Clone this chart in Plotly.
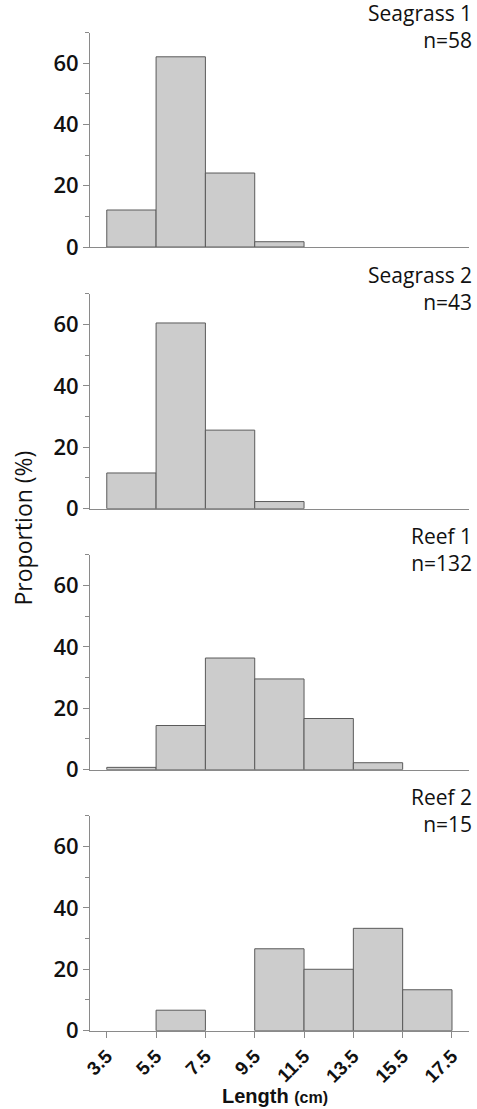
import plotly.graph_objects as go
from plotly.subplots import make_subplots

bin_centers = [4.5, 6.5, 8.5, 10.5, 12.5, 14.5, 16.5]
tick_vals = [3.5, 5.5, 7.5, 9.5, 11.5, 13.5, 15.5, 17.5]
tick_text = ["3.5", "5.5", "7.5", "9.5", "11.5", "13.5", "15.5", "17.5"]

site_names = ["Seagrass 1", "Seagrass 2", "Reef 1", "Reef 2"]
site_n = [58, 43, 132, 15]

seagrass1 = [12.07, 62.07, 24.14, 1.72, None, None, None]
seagrass2 = [11.63, 60.47, 25.58, 2.33, None, None, None]
reef1 = [0.76, 14.39, 36.36, 29.55, 16.67, 2.27, None]
reef2 = [None, 6.67, None, 26.67, 20.0, 33.33, 13.33]
series = [seagrass1, seagrass2, reef1, reef2]

W, H = 477, 1109
mt, ml, mr = 30, 90, 8
mb = H - 1031
PH = H - mt - mb
PW = W - ml - mr
tops = [32.5, 293.7, 554.7, 815.7]
bots = [247.0, 508.7, 769.7, 1030.7]


def py(page_y):
    return (H - mb - page_y) / PH


def px(page_x):
    return (page_x - ml) / PW


fig = make_subplots(rows=4, cols=1)

axis_col = "#8a8a8a"
tick_font = dict(family="Open Sans", size=22, color="#111111", weight=600)

for i, vals in enumerate(series):
    r = i + 1
    fig.add_trace(go.Bar(x=bin_centers, y=vals, width=2,
                         marker=dict(color="#cccccc", line=dict(color="#5a5a5a", width=1)),
                         showlegend=False, hoverinfo="skip"), row=r, col=1)
    d0 = py(bots[i])
    d1 = py(tops[i])
    yname = "yaxis" if r == 1 else f"yaxis{r}"
    xname = "xaxis" if r == 1 else f"xaxis{r}"
    fig.layout[yname].update(domain=[max(d0, 0), min(d1, 1)], range=[0, 70], tickvals=[0, 20, 40, 60],
                             showline=True, linecolor=axis_col, linewidth=1,
                             ticks="outside", ticklen=6, tickcolor=axis_col,
                             minor=dict(dtick=10, tick0=0, ticks="outside", ticklen=4, tickcolor=axis_col),
                             showgrid=False, zeroline=False, tickfont=tick_font)
    last = (r == 4)
    fig.layout[xname].update(range=[2.82, 18.19], showline=True, linecolor=axis_col, linewidth=1,
                             showgrid=False, zeroline=False,
                             tickvals=tick_vals, ticktext=tick_text,
                             ticks="outside" if last else "", ticklen=6, tickcolor=axis_col,
                             showticklabels=last, tickangle=-45,
                             tickfont=dict(family="Liberation Sans", size=19, color="#111111", weight="bold"))
    fig.add_annotation(xref="paper", yref="paper", x=px(474), y=d1, yshift=35,
                       xanchor="right", yanchor="top", align="right", showarrow=False,
                       text=f"{site_names[i]}<br>n={site_n[i]}",
                       font=dict(family="Open Sans", size=21, color="#111111"))

fig.add_annotation(xref="paper", yref="paper", x=px(22.5), y=py(528),
                   xanchor="center", yanchor="middle",
                   showarrow=False, textangle=-90, text="Proportion (%)",
                   font=dict(family="Open Sans", size=23, color="#111111", weight=500))
fig.add_annotation(xref="paper", yref="paper", x=px(275), y=py(1096),
                   xanchor="center", yanchor="middle",
                   showarrow=False,
                   text="Length <span style='font-size:16px'>(cm)</span>",
                   font=dict(family="Liberation Sans", size=20, color="#111111", weight="bold"))

fig.update_layout(width=W, height=H, margin=dict(t=mt, b=mb, l=ml, r=mr),
                  plot_bgcolor="white", paper_bgcolor="white", bargap=0)

fig.write_html("out.html", config={"displayModeBar": False, "staticPlot": True},
               post_script="document.body.style.margin='0';document.body.style.overflow='hidden';")
